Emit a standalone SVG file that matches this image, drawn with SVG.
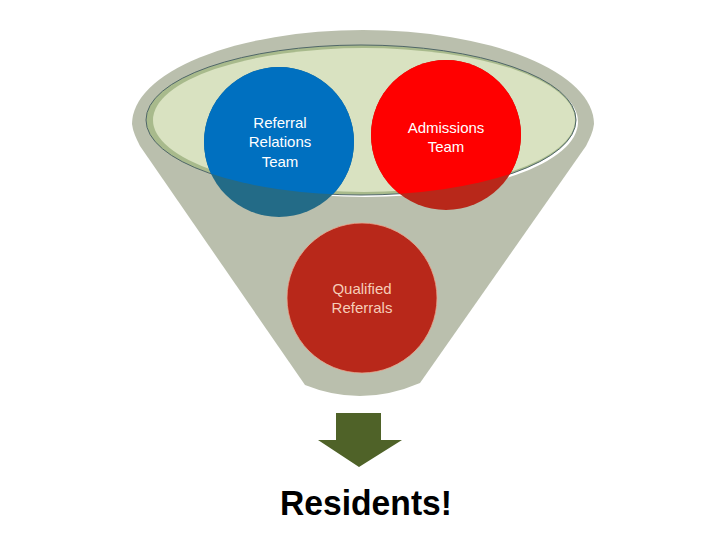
<svg xmlns="http://www.w3.org/2000/svg" width="720" height="540" viewBox="0 0 720 540">
<style>
.lbl{font-family:"Liberation Sans",Arial,sans-serif;font-size:15px;text-anchor:middle;fill:#ffffff}
.q{fill:#F6CDB8}
.big{font-family:"Liberation Sans",Arial,sans-serif;font-size:35px;font-weight:bold;text-anchor:middle;fill:#000000}
</style>
<defs>
<clipPath id="inner"><ellipse cx="361" cy="120" rx="215" ry="75"/></clipPath>
</defs>
<rect width="720" height="540" fill="#ffffff"/>
<g id="funnel">
<path d="M132,124 A231,94 0 0 1 594,124 C593,132 590,138 586,146 L420,383 Q362,408 305,385 L140,146 C136,138 133,132 132,124 Z" fill="#BABFAD"/>
<ellipse cx="365" cy="122" rx="213" ry="75" fill="#ffffff"/>
<ellipse cx="361" cy="120" rx="215" ry="75" fill="#A8BA8C"/>
<ellipse cx="364" cy="120" rx="211" ry="72" fill="#D9E2C1"/>
<ellipse cx="361" cy="120" rx="215" ry="75" fill="none" stroke="#4F6668" stroke-width="1"/>
</g>
<g id="referral-relations">
<circle cx="279" cy="142" r="75" fill="#236B87"/>
<circle cx="279" cy="142" r="75" fill="#0070C0" clip-path="url(#inner)"/>
<text class="lbl" x="280" y="128">Referral</text>
<text class="lbl" x="280" y="147">Relations</text>
<text class="lbl" x="280" y="167">Team</text>
</g>
<g id="admissions">
<circle cx="446" cy="135" r="75" fill="#B8281A"/>
<circle cx="446" cy="135" r="75" fill="#FF0000" clip-path="url(#inner)"/>
<text class="lbl" x="446" y="133">Admissions</text>
<text class="lbl" x="446" y="152">Team</text>
</g>
<g id="qualified">
<circle cx="362" cy="298" r="75" fill="#B8281A" stroke="#E8A890" stroke-width="0.8"/>
<text class="lbl q" x="362" y="294">Qualified</text>
<text class="lbl q" x="362" y="313">Referrals</text>
</g>
<g id="connectors">
<path d="M336,413 H381 V440 H402 L359,467 L318,440 H336 Z" fill="#4F6228"/>
</g>
<g id="residents">
<text class="big" x="366" y="515" textLength="172" lengthAdjust="spacingAndGlyphs">Residents!</text>
</g>
</svg>
